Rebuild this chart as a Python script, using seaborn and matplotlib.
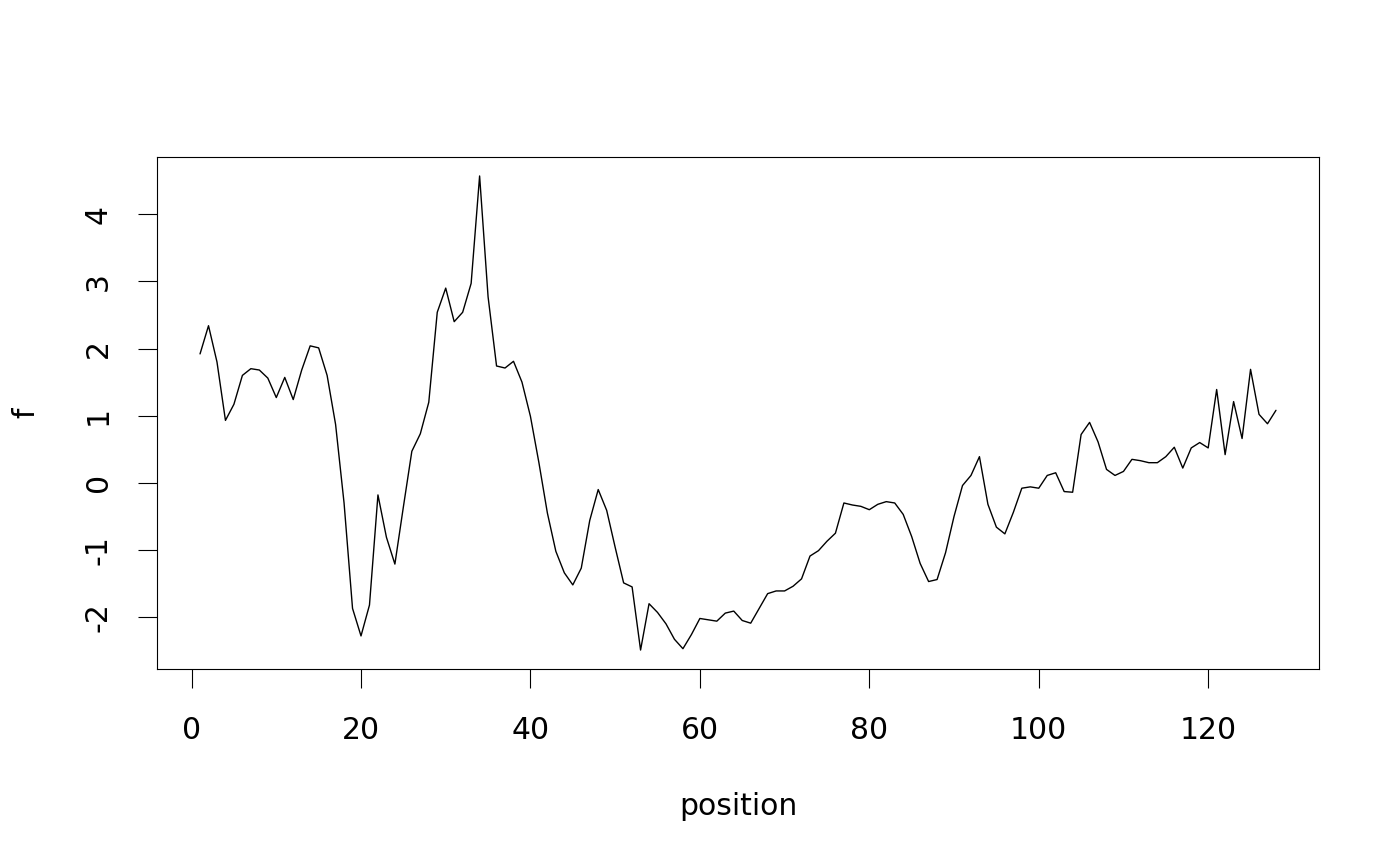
import matplotlib
matplotlib.use("Agg")
import matplotlib.pyplot as plt
import seaborn as sns
import numpy as np
import pandas as pd

# values
position = list(range(1, 129))
f = [
    1.92, 2.34, 1.80, 0.93, 1.17, 1.60, 1.70, 1.68, 1.56, 1.27,
    1.57, 1.24, 1.68, 2.04, 2.01, 1.60, 0.87, -0.30, -1.87, -2.28,
    -1.82, -0.18, -0.81, -1.21, -0.36, 0.47, 0.73, 1.20, 2.54, 2.90,
    2.40, 2.54, 2.97, 4.57, 2.77, 1.74, 1.71, 1.81, 1.50, 0.99,
    0.30, -0.45, -1.02, -1.34, -1.52, -1.27, -0.56, -0.10, -0.41, -0.96,
    -1.49, -1.55, -2.49, -1.80, -1.93, -2.10, -2.33, -2.47, -2.26, -2.02,
    -2.04, -2.06, -1.94, -1.91, -2.05, -2.09, -1.87, -1.65, -1.61, -1.61,
    -1.54, -1.43, -1.09, -1.01, -0.87, -0.75, -0.30, -0.33, -0.35, -0.40,
    -0.32, -0.28, -0.30, -0.47, -0.80, -1.20, -1.47, -1.44, -1.04, -0.50,
    -0.04, 0.11, 0.39, -0.32, -0.66, -0.76, -0.44, -0.08, -0.06, -0.08,
    0.11, 0.15, -0.13, -0.14, 0.72, 0.90, 0.61, 0.20, 0.11, 0.17,
    0.35, 0.33, 0.30, 0.30, 0.39, 0.53, 0.22, 0.52, 0.60, 0.52,
    1.39, 0.42, 1.21, 0.66, 1.69, 1.02, 0.88, 1.08,
]
x_ticks = [0, 20, 40, 60, 80, 100, 120]
y_ticks = [-2, -1, 0, 1, 2, 3, 4]

df = pd.DataFrame({"position": position, "f": f})

sns.set_style("ticks")
plt.rcParams["font.family"] = ["DejaVu Sans"]
plt.rcParams["axes.linewidth"] = 0.8

fig = plt.figure(figsize=(14, 8.66), dpi=100)
ax = fig.add_axes([157 / 1400, 1 - 669 / 866, (1319 - 157) / 1400, (669 - 157) / 866])

sns.lineplot(data=df, x="position", y="f", color="black", linewidth=1.0, ax=ax)

# R style 4% padding around the data range
xr = max(position) - min(position)
yr = max(f) - min(f)
ax.set_xlim(min(position) - 0.04 * xr, max(position) + 0.04 * xr)
ax.set_ylim(min(f) - 0.04 * yr, max(f) + 0.04 * yr)

ax.set_xticks(x_ticks)
ax.set_yticks(y_ticks)
ax.set_yticklabels([str(v) for v in y_ticks])
for s in ax.spines.values():
    s.set_visible(True)
    s.set_color("black")
    s.set_linewidth(0.8)

ax.tick_params(axis="both", direction="out", length=14, width=0.8,
               colors="black", labelsize=21.5, pad=20)
ax.tick_params(axis="y", labelrotation=90, pad=18)
plt.setp(ax.get_yticklabels(), va="center")

ax.set_xlabel("position", fontsize=21.5, color="black")
ax.set_ylabel("f", fontsize=21.5, color="black")
ax.xaxis.set_label_coords(0.5, (669 - 792) / 512)
ax.yaxis.set_label_coords((40 - 157) / 1162, 0.5)
ax.grid(False)

fig.savefig("out.png", dpi=100)
